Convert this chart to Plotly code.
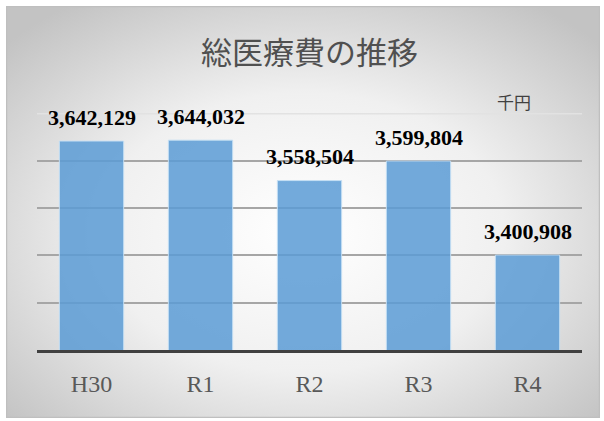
import plotly.graph_objects as go
import base64

categories = ["H30", "R1", "R2", "R3", "R4"]
values = [3642129, 3644032, 3558504, 3599804, 3400908]
title_text = "総医療費の推移"
unit_text = "千円"
y_min, y_max, y_step = 3200000, 3700000, 100000

W, H = 604, 421
ml, mr, mt, mb = 37, 22, 113, 71
pw, ph = W - ml - mr, H - mt - mb

# radial gradient panel as svg background
svg = (
    "<svg xmlns='http://www.w3.org/2000/svg' width='594' height='412' viewBox='0 0 594 412'>"
    "<defs><radialGradient id='g' cx='50%' cy='55%' r='68%'>"
    "<stop offset='0' stop-color='#ffffff'/><stop offset='0.5' stop-color='#f0f0f0'/>"
    "<stop offset='1' stop-color='#c3c3c3'/></radialGradient></defs>"
    "<rect x='0.5' y='0.5' width='593' height='411' fill='url(#g)' stroke='#bfbfbf' stroke-width='1.5'/>"
    "</svg>"
)
src = "data:image/svg+xml;base64," + base64.b64encode(svg.encode()).decode()

fig = go.Figure()
fig.add_trace(go.Bar(
    x=categories, y=values,
    marker=dict(color="rgba(91,155,213,0.85)",
                line=dict(color="rgba(200,225,245,0.9)", width=1)),
    hoverinfo="skip",
))

for c, v in zip(categories, values):
    fig.add_annotation(x=c, y=v, text=f"<b>{v:,}</b>", showarrow=False, yshift=24,
                       font=dict(family="Liberation Serif", size=22, color="#000000"))

fig.add_annotation(xref="paper", yref="paper", x=(514 - ml) / pw, y=(H - mb - 102) / ph,
                   text=unit_text, showarrow=False, xanchor="center", yanchor="middle",
                   font=dict(family="Noto Sans CJK JP", size=17, color="#404040"))

fig.add_shape(type="line", xref="paper", yref="y", x0=0, x1=1, y0=y_max, y1=y_max,
              line=dict(color="#e2e2e2", width=1.5), layer="below")

fig.update_layout(
    width=W, height=H,
    margin=dict(l=ml, r=mr, t=mt, b=mb),
    paper_bgcolor="white", plot_bgcolor="rgba(0,0,0,0)",
    showlegend=False,
    bargap=0.41,
    title=dict(text=title_text, x=0.5, xref="paper", xanchor="center",
               y=(H - 53) / H, yanchor="middle",
               font=dict(family="Noto Sans CJK JP", size=31, color="#505050")),
    images=[dict(source=src, xref="paper", yref="paper",
                 x=(6 - ml) / pw, y=(H - mb - 6) / ph,
                 sizex=594 / pw, sizey=412 / ph,
                 xanchor="left", yanchor="top", sizing="stretch", layer="below")],
    xaxis=dict(showline=True, linecolor="#404040", linewidth=3, ticks="",
               tickfont=dict(family="Liberation Serif", size=24, color="#595959"),
               ticklabelstandoff=10, fixedrange=True),
    yaxis=dict(range=[y_min, y_max + 1500], dtick=y_step, tick0=y_min,
               showgrid=True, gridcolor="#a6a6a6", gridwidth=1.5,
               showticklabels=False, zeroline=False, fixedrange=True),
)

fig.write_html("out.html", config={"displayModeBar": False},
               post_script="document.body.style.margin='0';document.body.style.padding='0';")
